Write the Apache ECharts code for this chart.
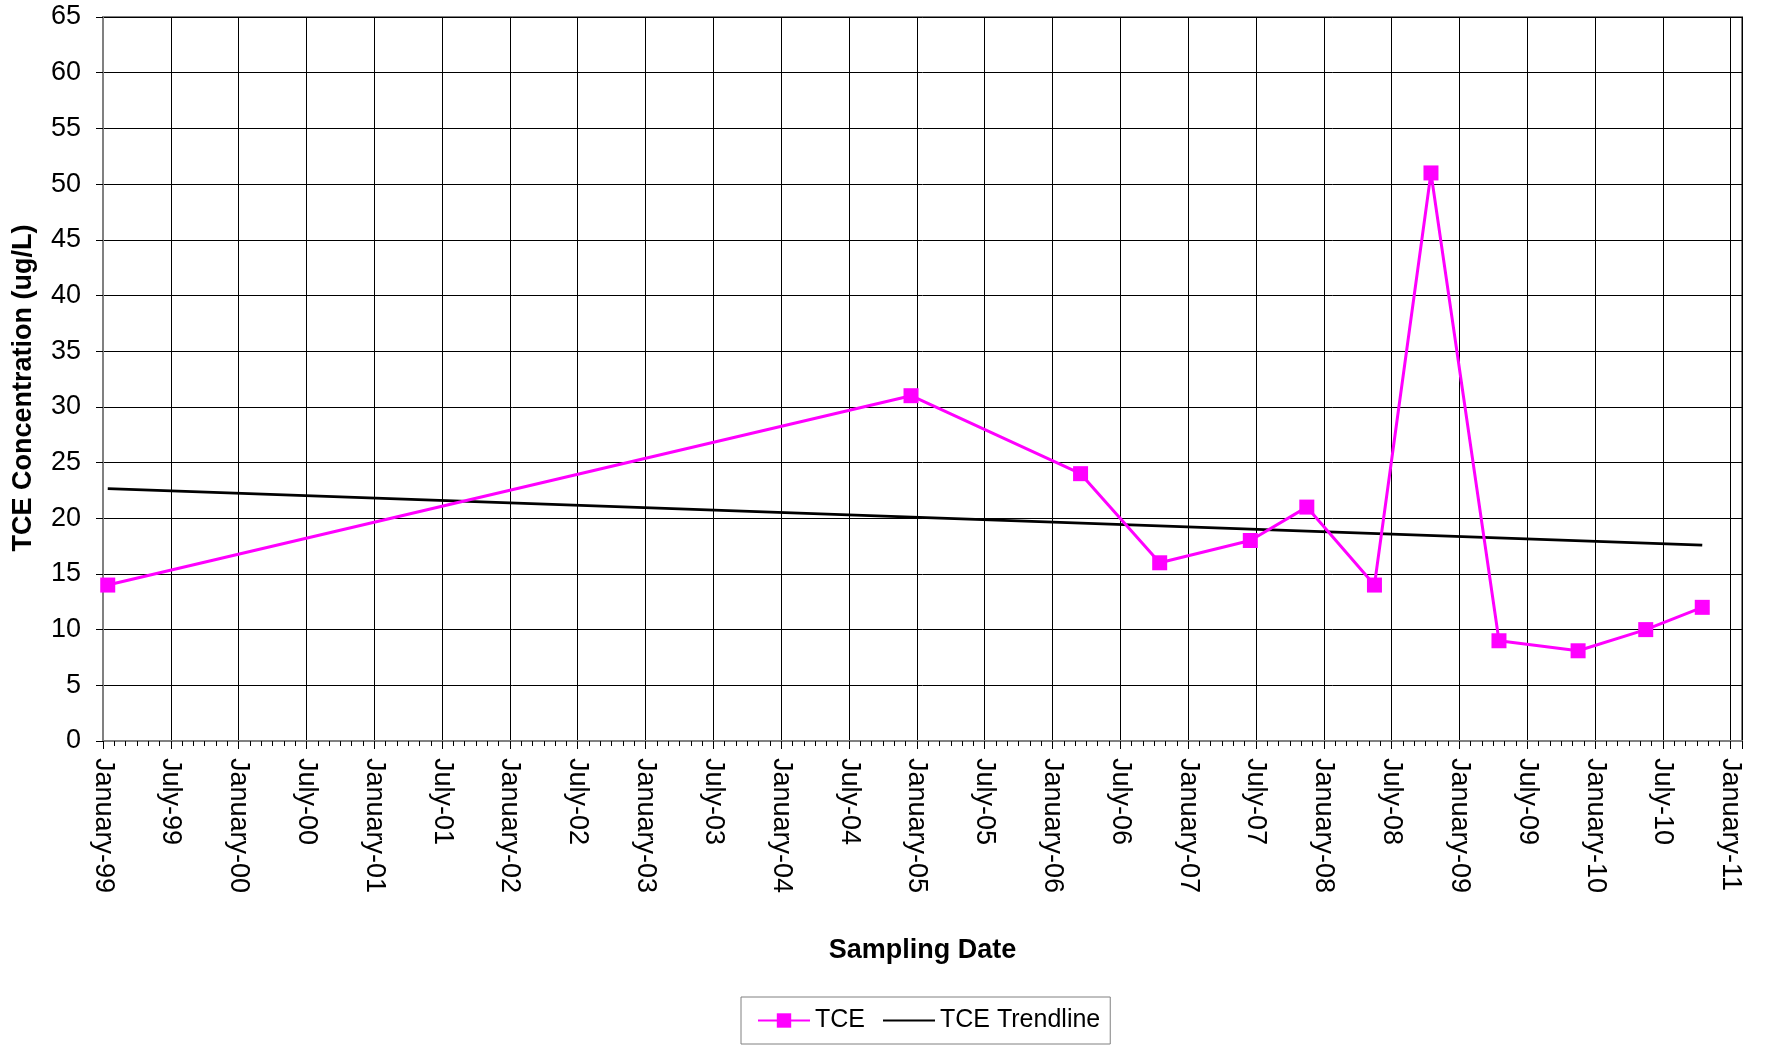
<!DOCTYPE html>
<html lang="en">

<head>
    <meta charset="UTF-8">
    <style>
        html, body {
            margin: 0;
            padding: 0;
            background: #fff;
        }
        #main {
            width: 1765px;
            height: 1046px;
        }
    </style>
    <title>TCE Concentration</title>
</head>

<body>

    <div id="main"></div>

    <script src="https://cdn.jsdelivr.net/npm/echarts@6.0.0/dist/echarts.min.js"></script>
    <script>
        // sampling dates and TCE values (ug/L)
        var sampleDates = ['1999-01-14', '2004-12-16', '2006-03-16', '2006-10-16', '2007-06-16', '2007-11-16',
            '2008-05-16', '2008-10-16', '2009-04-16', '2009-11-16', '2010-05-16', '2010-10-16'];
        var tceValues = [14, 31, 24, 16, 18, 21, 14, 51, 9, 8.1, 10, 12];

        // trendline end values, at first and last sampling date
        var trendValues = [22.65, 17.58];

        // x tick label month names (every 6 months)
        var tickMonthNames = ['January', 'July'];

        var FONT = 'Liberation Sans, Arial, sans-serif';

        // months since January 1999
        function toMonths(s) {
            var p = s.split('-');
            var y = +p[0], m = +p[1], d = +p[2];
            var dim = new Date(y, m, 0).getDate();
            return (y - 1999) * 12 + (m - 1) + (d - 1) / dim;
        }

        var tceData = sampleDates.map(function (d, i) {
            return [toMonths(d), tceValues[i]];
        });
        var trendData = [
            [toMonths(sampleDates[0]), trendValues[0]],
            [toMonths(sampleDates[sampleDates.length - 1]), trendValues[1]]
        ];

        var myChart = echarts.init(document.getElementById('main'));

        var option = {
            animation: false,
            backgroundColor: '#fff',
            textStyle: { fontFamily: FONT },
            grid: {
                left: 103,
                right: 23,
                top: 17,
                bottom: 305,
                show: true,
                borderColor: '#808080',
                borderWidth: 2
            },
            legend: {
                left: 741,
                top: 997,
                padding: [11, 10, 11, 16],
                borderColor: '#808080',
                borderWidth: 1,
                itemWidth: 52,
                itemHeight: 18,
                itemGap: 17,
                textStyle: { fontSize: 25, color: '#000', fontFamily: FONT },
                data: ['TCE', 'TCE Trendline']
            },
            xAxis: [{
                type: 'value',
                min: 0,
                max: 145,
                interval: 6,
                name: 'Sampling Date',
                nameLocation: 'middle',
                nameGap: 196,
                nameTextStyle: { fontSize: 27, fontWeight: 'bold', color: '#000', fontFamily: FONT },
                axisLine: { lineStyle: { color: '#808080', width: 2 } },
                axisTick: { length: 8, lineStyle: { color: '#000' } },
                axisLabel: {
                    rotate: -90,
                    margin: 17,
                    fontSize: 27,
                    color: '#000',
                    fontFamily: FONT,
                    formatter: function (v) {
                        if (v % 6 !== 0) return '';
                        var yr = 1999 + Math.floor(v / 12);
                        var yy = ('0' + (yr % 100)).slice(-2);
                        return tickMonthNames[(v % 12) / 6] + '-' + yy;
                    }
                },
                splitLine: { show: true, lineStyle: { color: '#000', width: 1 } }
            }, {
                // monthly minor ticks
                type: 'value',
                min: 0,
                max: 145,
                interval: 1,
                position: 'bottom',
                axisLine: { show: false },
                axisTick: { length: 5, lineStyle: { color: '#000' } },
                axisLabel: { show: false },
                splitLine: { show: false }
            }],
            yAxis: {
                type: 'value',
                min: 0,
                max: 65,
                interval: 5,
                name: 'TCE Concentration (ug/L)',
                nameLocation: 'middle',
                nameGap: 66,
                nameTextStyle: {
                    fontSize: 27,
                    fontWeight: 'bold',
                    color: '#000',
                    fontFamily: FONT,
                    padding: [0, 18, 0, 0]
                },
                axisLine: { show: true, lineStyle: { color: '#808080', width: 2 } },
                axisTick: { show: true, length: 7, lineStyle: { color: '#000' } },
                axisLabel: { margin: 22, fontSize: 27, color: '#000', fontFamily: FONT },
                splitLine: { show: true, lineStyle: { color: '#000', width: 1 } }
            },
            series: [{
                name: 'TCE',
                type: 'line',
                xAxisIndex: 0,
                data: tceData,
                symbol: 'rect',
                symbolSize: 15,
                itemStyle: { color: '#FF00FF' },
                lineStyle: { color: '#FF00FF', width: 3 },
                z: 3
            }, {
                name: 'TCE Trendline',
                type: 'line',
                xAxisIndex: 0,
                data: trendData,
                symbol: 'none',
                itemStyle: { color: '#000', opacity: 0 },
                lineStyle: { color: '#000', width: 2.8, opacity: 1 },
                z: 2
            }]
        };

        myChart.setOption(option);
    </script>
</body>

</html>
